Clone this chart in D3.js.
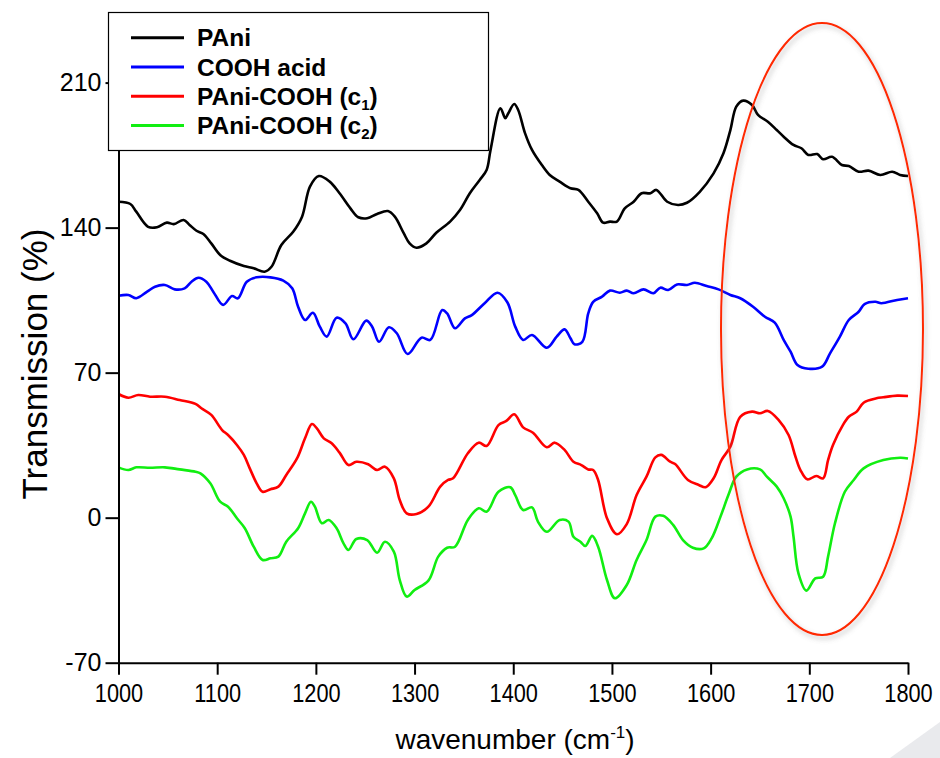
<!DOCTYPE html>
<html>
<head>
<meta charset="utf-8">
<script src="https://cdn.jsdelivr.net/npm/d3@7"></script>
<style>
  html, body { margin: 0; padding: 0; background: #fff; }
  svg { display: block; font-family: "Liberation Sans", Arial, sans-serif; }
</style>
</head>
<body>
<div id="chart"></div>
<script>
// values: [wavenumber, transmission]
const paniData = [[1000,152.5],[1012,151.4],[1018,147.7],[1030,140.4],[1039,140.2],[1049,142.4],[1056,141.7],[1066,143.7],[1072,141.3],[1079,138.5],[1086,136.9],[1094,132.4],[1103,126.8],[1113,124],[1127,121.5],[1137,120.4],[1148,118.7],[1155,121.1],[1165,131.6],[1177,138],[1186,145.3],[1194,159.8],[1203,164.9],[1214,162.2],[1224,156.6],[1235,149.3],[1243,145],[1252,144.5],[1262,146.6],[1273,148],[1280,145.3],[1289,137.3],[1295,132.4],[1302,130.3],[1312,132.4],[1322,137.5],[1336,142.9],[1346,148.5],[1356,156.6],[1366,163],[1373,167.8],[1377,177.5],[1387,197.6],[1392,192.8],[1395,195.2],[1401,199.7],[1405,196.8],[1412,185.5],[1419,177.5],[1429,170.2],[1437,165.4],[1447,162.2],[1458,159],[1466,158.2],[1476,152.5],[1485,146.9],[1491,142.4],[1498,142.9],[1505,142.9],[1513,149.3],[1522,152.5],[1530,156.6],[1539,156.6],[1545,158.2],[1556,152.5],[1567,150.9],[1576,152],[1589,157.3],[1603,166.2],[1613,175.9],[1620,187.1],[1626,198.4],[1633,201.3],[1642,199.2],[1648,194.4],[1658,191.1],[1667,187.1],[1674,183.9],[1684,179.9],[1692,178.3],[1699,175.1],[1708,175.5],[1714,173],[1723,174.2],[1733,170.2],[1740,169.7],[1750,167],[1760,167.5],[1772,165.4],[1784,167],[1792,165.4],[1800,164.9]];

const acidData = [[1000,107.1],[1010,107.5],[1018,105.9],[1029,109.1],[1037,111.5],[1047,112.3],[1057,110.2],[1067,110.7],[1074,113.9],[1081,115.8],[1089,113.9],[1096,109.1],[1106,102.7],[1115,107],[1121,105.9],[1130,113.9],[1140,116],[1154,116],[1167,114.4],[1176,110.7],[1182,101.8],[1189,95.4],[1197,98.9],[1204,92.2],[1211,87.4],[1221,96.5],[1230,93.8],[1238,86.1],[1251,95.1],[1257,92.2],[1264,84.9],[1274,91.9],[1282,89],[1293,79],[1307,86.9],[1316,85.8],[1328,100.2],[1333,98.6],[1341,91.4],[1351,96.2],[1358,97.8],[1371,103.5],[1384,108.6],[1394,104],[1402,92.2],[1410,85.8],[1419,88.2],[1434,82],[1444,87.4],[1452,90.9],[1458,86.6],[1462,83.7],[1470,84.9],[1476,98.6],[1481,104.2],[1490,106.7],[1498,109.6],[1508,108.6],[1515,109.6],[1522,108.3],[1532,110.2],[1542,108.3],[1549,111],[1557,109.9],[1566,112.6],[1576,112.3],[1584,113.4],[1596,111.8],[1608,110.2],[1620,107.5],[1630,105.9],[1643,101.8],[1655,97],[1665,94.1],[1674,85.8],[1681,80.1],[1688,73.7],[1699,71.9],[1713,72.9],[1721,79.3],[1731,87.4],[1740,95.4],[1750,99.4],[1756,103.1],[1767,104.2],[1773,103.5],[1789,105.1],[1800,105.9]];

const c1Data = [[1000,59.7],[1010,57.9],[1020,59.2],[1032,58.4],[1047,58.4],[1062,56.8],[1078,54.9],[1084,52.8],[1094,49.6],[1105,42.3],[1111,39.9],[1120,35.1],[1127,30.3],[1133,23.8],[1140,16.6],[1146,12.5],[1154,13.7],[1162,15],[1170,20.6],[1181,28.7],[1189,38.3],[1196,45.2],[1201,43.1],[1208,38.3],[1216,35.9],[1224,31.4],[1233,25.4],[1241,27],[1253,25.8],[1262,23],[1270,24.6],[1279,19],[1285,8.5],[1292,2.1],[1302,1.8],[1314,5.3],[1326,15],[1334,18.2],[1339,19],[1354,31.1],[1365,36.2],[1373,34.6],[1385,44.7],[1393,46.7],[1401,49.9],[1410,43.6],[1420,41],[1434,34],[1442,36.2],[1452,32.7],[1461,27],[1469,25.4],[1476,23.3],[1481,23],[1486,18.2],[1495,-0.3],[1505,-8],[1515,-3.1],[1525,10.9],[1535,19.8],[1544,29.1],[1550,30.3],[1559,27],[1564,25.9],[1577,18.2],[1588,15.8],[1595,14.7],[1603,19],[1611,27.8],[1620,34.3],[1630,48.7],[1642,51.2],[1650,50.4],[1658,51.5],[1669,47.1],[1679,39.9],[1686,29.4],[1691,23],[1698,18.5],[1707,20.1],[1714,19],[1719,27.8],[1724,35.1],[1734,44.7],[1740,48.7],[1748,51.2],[1755,55.5],[1768,57.6],[1775,58.1],[1789,58.9],[1800,58.7]];

const c2Data = [[1000,24.3],[1010,23],[1018,24.3],[1032,24.1],[1047,24.3],[1062,23.3],[1078,22.2],[1083,21.4],[1093,16.6],[1103,7.7],[1111,5.3],[1120,-0.3],[1128,-5.1],[1137,-14],[1146,-20.4],[1154,-19.6],[1162,-18.8],[1170,-11.6],[1182,-5.1],[1189,2.1],[1195,7.7],[1199,5.3],[1206,-2.7],[1213,-1.1],[1221,-5.1],[1228,-12.4],[1233,-15.6],[1241,-10.3],[1252,-10.8],[1262,-16.9],[1270,-11.6],[1279,-16.4],[1285,-30.1],[1292,-38.1],[1300,-34.9],[1314,-30.4],[1324,-18.8],[1333,-14.5],[1341,-14],[1354,-1.1],[1365,4.5],[1373,2.9],[1385,12.5],[1397,14.7],[1402,10.9],[1410,3.7],[1419,5],[1425,-1.9],[1434,-6.8],[1447,-1.1],[1456,-1.9],[1461,-9.2],[1468,-11.6],[1473,-13.7],[1480,-8.8],[1486,-14],[1495,-30.1],[1503,-38.9],[1515,-32.5],[1525,-20.4],[1535,-10.8],[1544,0.5],[1552,0.9],[1562,-3.5],[1572,-10.8],[1582,-14.5],[1593,-14.8],[1601,-10],[1610,0.5],[1618,10.9],[1626,19.8],[1637,23.3],[1650,23.3],[1657,19.8],[1667,15],[1674,9.4],[1681,0.5],[1684,-9.2],[1689,-26.9],[1697,-35.2],[1706,-29.3],[1714,-28.5],[1719,-18.8],[1726,-2.7],[1736,12.5],[1745,18.2],[1755,23.8],[1775,27.8],[1792,28.9],[1800,28.6]];

const xTicks = [1000, 1100, 1200, 1300, 1400, 1500, 1600, 1700, 1800];
const yTicks = [-70, 0, 70, 140, 210];

const series = [
  { name: 'PAni', sub: null, color: '#000000', data: paniData },
  { name: 'COOH acid', sub: null, color: '#0000ff', data: acidData },
  { name: 'PAni-COOH (c', sub: '1', color: '#ff0000', data: c1Data },
  { name: 'PAni-COOH (c', sub: '2', color: '#11ee11', data: c2Data }
];

const width = 940;
const height = 758;

const svg = d3.select('#chart')
  .append('svg')
  .attr('width', width)
  .attr('height', height);

const x = d3.scaleLinear().domain([1000, 1800]).range([118.5, 908]);
const y = d3.scaleLinear().domain([-70, 210]).range([662.7, 82.6]);

// shadow for the highlight ellipse
const defs = svg.append('defs');
defs.append('filter')
  .attr('id', 'shadow')
  .attr('x', '-20%').attr('y', '-10%')
  .attr('width', '140%').attr('height', '120%')
  .append('feDropShadow')
  .attr('dx', 2).attr('dy', 3)
  .attr('stdDeviation', 2.5)
  .attr('flood-color', '#777')
  .attr('flood-opacity', 0.45);

// light grey corner decoration
svg.append('path')
  .attr('d', 'M890,758L940,722L940,758Z')
  .attr('fill', '#e9eaed');

const line = d3.line()
  .x(d => x(d[0]))
  .y(d => y(d[1]))
  .curve(d3.curveCatmullRom.alpha(0.5));

svg.selectAll('path.series')
  .data(series)
  .enter()
  .append('path')
  .attr('class', 'series')
  .attr('fill', 'none')
  .attr('stroke', d => d.color)
  .attr('stroke-width', 2.6)
  .attr('stroke-linejoin', 'round')
  .attr('d', d => line(d.data));

// x axis
const xAxis = svg.append('g')
  .attr('transform', `translate(0,${y(-70)})`)
  .call(d3.axisBottom(x).tickValues(xTicks).tickSize(12).tickSizeOuter(0).tickFormat(d => String(d)));

xAxis.selectAll('text')
  .attr('y', 39)
  .attr('dy', 0)
  .attr('fill', '#000')
  .style('font-size', '25px')
  .attr('transform', 'scale(0.87,1)');

// y axis (plain hyphen for the negative label, as in the original)
const yAxis = svg.append('g')
  .attr('transform', `translate(${x(1000)},0)`)
  .call(d3.axisLeft(y).tickValues(yTicks).tickSize(13).tickSizeOuter(0).tickFormat(d => String(d)));

yAxis.selectAll('text')
  .attr('x', -17)
  .attr('fill', '#000')
  .style('font-size', '25px');

svg.selectAll('.domain, .tick line')
  .attr('stroke', '#000')
  .attr('stroke-width', 2);

// axis titles
const xTitle = svg.append('text')
  .attr('x', 515)
  .attr('y', 749)
  .attr('text-anchor', 'middle')
  .style('font-size', '28px');
xTitle.append('tspan').text('wavenumber (cm');
xTitle.append('tspan').attr('dy', -11).style('font-size', '17px').text('-1');
xTitle.append('tspan').attr('dy', 11).text(')');

svg.append('text')
  .attr('transform', 'translate(47,364) rotate(-90)')
  .attr('text-anchor', 'middle')
  .style('font-size', '35px')
  .text('Transmission (%)');

// legend
const legend = svg.append('g');
legend.append('rect')
  .attr('x', 108.5).attr('y', 12.5)
  .attr('width', 380).attr('height', 138)
  .attr('fill', '#fff')
  .attr('stroke', '#000')
  .attr('stroke-width', 1.2);

const items = legend.selectAll('g.item')
  .data(series)
  .enter()
  .append('g')
  .attr('class', 'item')
  .attr('transform', (d, i) => `translate(0,${37.7 + i * 29.3})`);

items.append('line')
  .attr('x1', 131).attr('x2', 184)
  .attr('stroke', d => d.color)
  .attr('stroke-width', 3);

const labels = items.append('text')
  .attr('x', 197)
  .attr('y', 8.5)
  .style('font-size', '24.5px')
  .style('font-weight', 'bold');
labels.append('tspan').text(d => d.name);
labels.filter(d => d.sub)
  .append('tspan').attr('dy', 5).style('font-size', '15px').text(d => d.sub);
labels.filter(d => d.sub)
  .append('tspan').attr('dy', -5).text(')');

// highlight ellipse
svg.append('ellipse')
  .attr('cx', 822)
  .attr('cy', 329)
  .attr('rx', 101)
  .attr('ry', 306)
  .attr('fill', 'none')
  .attr('stroke', '#ff2a00')
  .attr('stroke-width', 2)
  .attr('filter', 'url(#shadow)');
</script>
</body>
</html>
